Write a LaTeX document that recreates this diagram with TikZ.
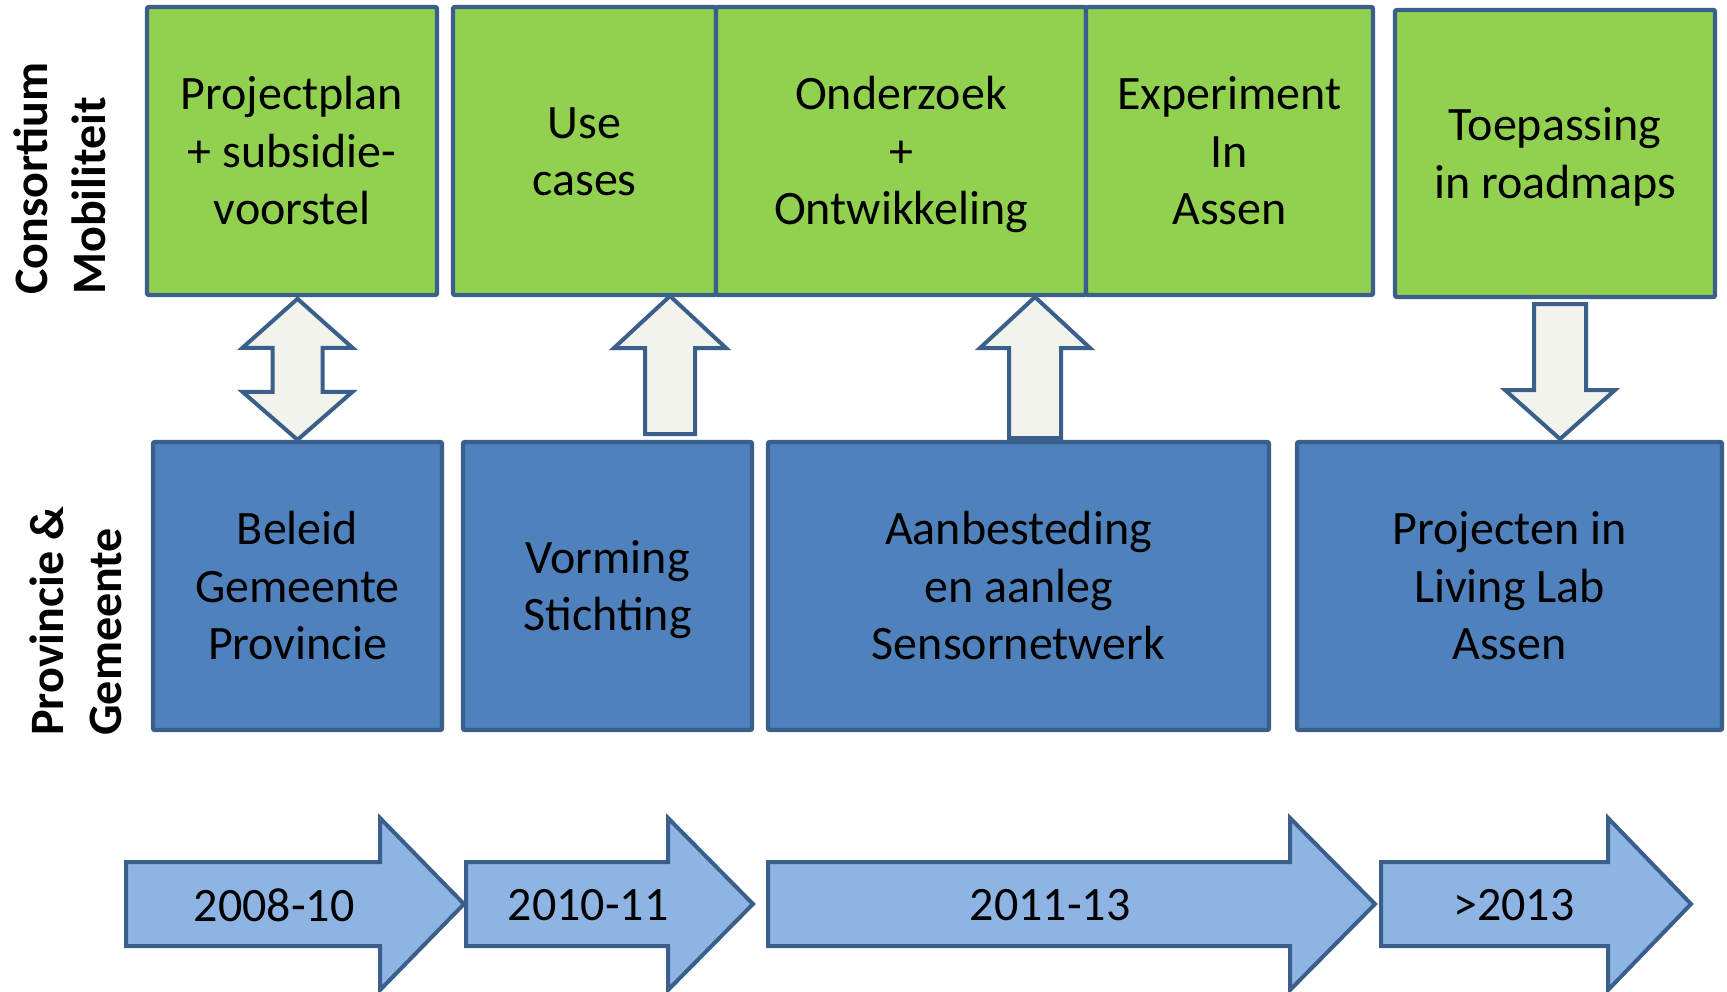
\documentclass[tikz,border=0pt]{standalone}
\usepackage{fontspec}
\setmainfont{Carlito}
\usetikzlibrary{calc}
\definecolor{gfill}{HTML}{92D050}
\definecolor{bfill}{HTML}{4F81BD}
\definecolor{edge}{HTML}{3A5F8B}
\definecolor{afill}{HTML}{F3F3EE}
\definecolor{tfill}{HTML}{8EB4E3}
\newcommand{\bs}{\rule[-6pt]{0pt}{28pt}}
\tikzset{
  box/.style={draw=edge, line width=2.2pt, inner sep=0pt, align=center,
    font=\fontsize{24}{28.75}\selectfont, rounded corners=1pt, minimum height=144pt},
  gbox/.style={box, fill=gfill},
  bbox/.style={box, fill=bfill},
  barrow/.style={draw=edge, fill=afill, line width=2pt, line join=miter},
  tarrow/.style={draw=edge, fill=tfill, line width=2pt, line join=miter},
  lbl/.style={font=\bfseries\fontsize{24}{29}\selectfont, rotate=90, align=left,
    anchor=west, inner sep=0pt},
  ttext/.style={font=\fontsize{24}{28.5}\selectfont, inner sep=0pt}
}
\begin{document}
\begin{tikzpicture}[x=0.5pt,y=-0.5pt]
\useasboundingbox (0,0) rectangle (1727,991);
% side labels
\node[lbl] (lc) at (60,295) {Consortium\\Mobiliteit};
\node[lbl] (lp) at (76,736) {Provincie \&\\Gemeente};
% green boxes
\node[gbox, minimum width=145pt] (g1) at (292,151) {\bs Projectplan\\+ subsidie-\\voorstel\bs};
\node[gbox, minimum width=131.5pt] (g2) at (584.5,151) {\bs Use\\cases\bs};
\node[gbox, minimum width=185pt] (g3) at (901,151) {\bs Onderzoek\\+\\Ontwikkeling\bs};
\node[gbox, minimum width=143.5pt] (g4) at (1229.5,151) {\bs Experiment\\In\\Assen\bs};
\node[gbox, minimum width=160pt, minimum height=143.5pt] (g5) at (1555,153.5) {\bs Toepassing\\in roadmaps\bs};
% blue boxes
\node[bbox, minimum width=144.5pt] (b1) at (297.5,586) {\bs Beleid\\Gemeente\\Provincie\bs};
\node[bbox, minimum width=144.5pt] (b2) at (607.5,586) {\bs Vorming\\Stichting\bs};
\node[bbox, minimum width=250.5pt] (b3) at (1018.5,586) {\bs Aanbesteding\\en aanleg\\Sensornetwerk\bs};
\node[bbox, minimum width=212.5pt] (b4) at (1509.5,586) {\bs Projecten in\\Living Lab\\Assen\bs};
% block arrows between rows
\draw[barrow] (b1.north) -- ++(-55,-48) -- ++(30,0) -- ++(0,-44) -- ++(-30,0)
  -- ++(55,-49) -- ++(55,49) -- ++(-30,0) -- ++(0,44) -- ++(30,0) -- cycle;
\coordinate (u1) at (670,296);
\draw[barrow] (u1) -- ++(56,52) -- ++(-31,0) -- ++(0,86) -- ++(-50,0)
  -- ++(0,-86) -- ++(-31,0) -- cycle;
\coordinate (u2) at (1035,297);
\draw[barrow] (u2) -- ++(55,51) -- ++(-29,0) -- ++(0,90) -- ++(-52,0)
  -- ++(0,-90) -- ++(-29,0) -- cycle;
\coordinate (d1) at (1560,439);
\draw[barrow] (d1) -- ++(-55,-49) -- ++(29,0) -- ++(0,-86) -- ++(52,0)
  -- ++(0,86) -- ++(29,0) -- cycle;
% timeline arrows
\draw[tarrow] (126,862) -- (380,862) -- (380,818) -- (464,904) -- (380,990)
  -- (380,946) -- (126,946) -- cycle;
\draw[tarrow] (466,862) -- (668,862) -- (668,818) -- (753,904) -- (668,990)
  -- (668,946) -- (466,946) -- cycle;
\draw[tarrow] (768,862) -- (1290,862) -- (1290,818) -- (1375,904) -- (1290,990)
  -- (1290,946) -- (768,946) -- cycle;
\draw[tarrow] (1381,862) -- (1608,862) -- (1608,818) -- (1691,904) -- (1608,990)
  -- (1608,946) -- (1381,946) -- cycle;
\node[ttext] (t1) at (274,905) {2008-10};
\node[ttext] (t2) at (588,905) {2010-11};
\node[ttext] (t3) at (1050,905) {2011-13};
\node[ttext] (t4) at (1514,905) {>2013};
\end{tikzpicture}
\end{document}
